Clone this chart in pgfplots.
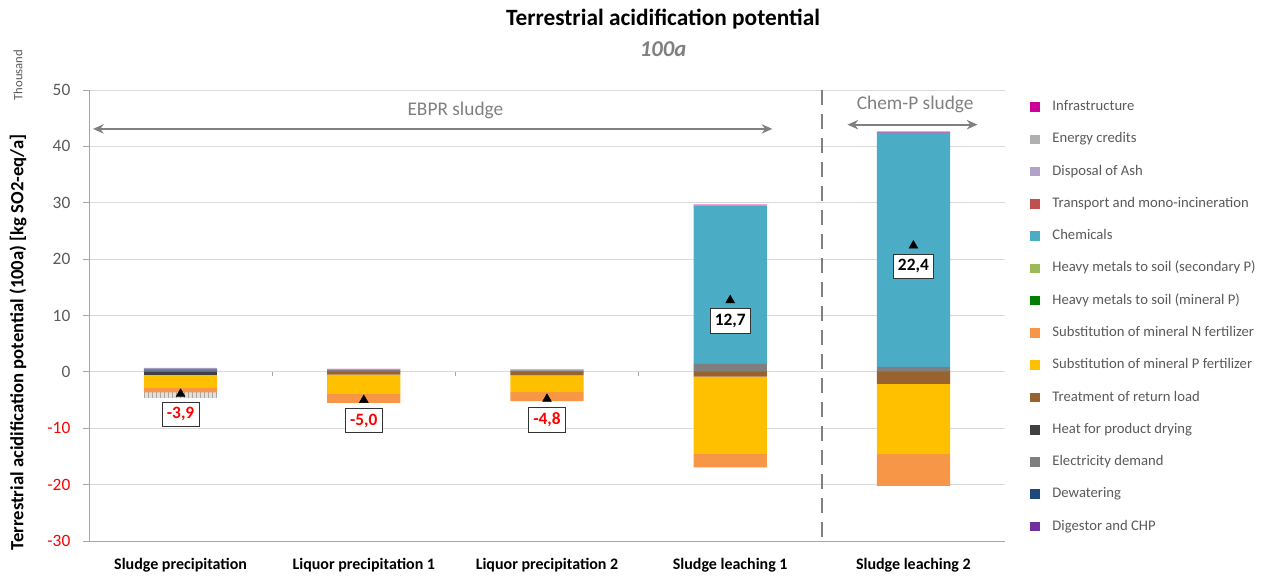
\documentclass[border=0pt]{standalone}
\usepackage{pgfplots}
\pgfplotsset{compat=1.18}
\usepackage{fontspec}
\setmainfont{Carlito}
\usetikzlibrary{arrows.meta,patterns}

\definecolor{cInfra}{HTML}{CC0099}
\definecolor{cEC}{HTML}{E0E0E0}
\definecolor{cECleg}{HTML}{B0B0B0}
\definecolor{cAsh}{HTML}{B3A2C7}
\definecolor{cTrans}{HTML}{C0504D}
\definecolor{cChem}{HTML}{4BACC6}
\definecolor{cHMs}{HTML}{9BBB59}
\definecolor{cHMm}{HTML}{008000}
\definecolor{cSubN}{HTML}{F79646}
\definecolor{cSubP}{HTML}{FFC000}
\definecolor{cRet}{HTML}{98632F}
\definecolor{cHeat}{HTML}{404040}
\definecolor{cElec}{HTML}{7F7F7F}
\definecolor{cDew}{HTML}{1F497D}
\definecolor{cDig}{HTML}{7030A0}
\definecolor{axgray}{HTML}{A6A6A6}
\definecolor{gridgray}{HTML}{D9D9D9}
\definecolor{tickgray}{HTML}{595959}
\definecolor{arrowgray}{HTML}{808080}

\begin{document}
\begin{tikzpicture}
\pgfplotsset{base/.style={scale only axis, width=687pt, height=338.25pt,
  xmin=-0.5, xmax=4.5, ymin=-30, ymax=50, at={(0pt,0pt)}, anchor=south west}}

% frame, grid and the positive contributions
\begin{axis}[base, ybar stacked, bar width=0.4,
  axis x line*=bottom, axis y line*=left,
  axis line style={draw=axgray, line width=0.6pt},
  ymajorgrids, grid style={draw=gridgray, line width=0.6pt},
  ytick={-30,-20,...,50},
  yticklabels={\textcolor{red}{-30},\textcolor{red}{-20},\textcolor{red}{-10},0,10,20,30,40,50},
  xtick={0,1,2,3,4},
  xticklabels={Sludge precipitation,Liquor precipitation 1,Liquor precipitation 2,Sludge leaching 1,Sludge leaching 2},
  tick align=outside, major tick length=4.5pt,
  xtick style={draw=none}, ytick style={draw=axgray, line width=0.6pt},
  yticklabel style={font=\fontsize{13}{15}\selectfont, text=tickgray, xshift=-6pt},
  xticklabel style={font=\bfseries\fontsize{12}{14}\selectfont, text=black, yshift=-5pt},
]
\addplot[fill=cDig, draw=none] coordinates {(0,0.1) (1,0.05) (2,0.05) (3,0.05) (4,0.05)};
\addplot[fill=cDew, draw=none] coordinates {(0,0.15) (1,0.05) (2,0.05) (3,0.05) (4,0.05)};
\addplot[fill=cElec, draw=none] coordinates {(0,0.3) (1,0.25) (2,0.15) (3,1.3) (4,0.8)};
\addplot[fill=cChem, draw=none] coordinates {(0,0) (1,0) (2,0) (3,28.1) (4,41.55)};
\addplot[fill=cAsh, draw=none] coordinates {(0,0.15) (1,0.12) (2,0.1) (3,0.05) (4,0)};
\addplot[fill=cInfra, draw=none] coordinates {(0,0) (1,0.05) (2,0.05) (3,0.1) (4,0.15)};
\end{axis}

% negative contributions
\begin{axis}[base, hide axis, ybar stacked, bar width=0.4]
\addplot[fill=cHeat, draw=none] coordinates {(0,-0.5) (1,0) (2,0) (3,0) (4,0)};
\addplot[fill=cRet, draw=none] coordinates {(0,0) (1,-0.5) (2,-0.6) (3,-0.85) (4,-2.13)};
\addplot[fill=cSubP, draw=none] coordinates {(0,-2.35) (1,-3.4) (2,-3.0) (3,-13.7) (4,-12.45)};
\addplot[fill=cSubN, draw=none] coordinates {(0,-0.8) (1,-1.62) (2,-1.6) (3,-2.4) (4,-5.62)};
\addplot[fill=cEC, draw=none, postaction={pattern=vertical lines, pattern color=gray!70}] coordinates {(0,-0.95) (1,0) (2,0) (3,0) (4,0)};
\end{axis}

% net results, legend and annotations
\begin{axis}[base, hide axis, clip=false,
  legend image code/.code={\path[#1, draw=none] (0pt,-3.6pt) rectangle (7.5pt,3.6pt);},
  legend style={at={(rel axis cs:1.0275,0.98)}, anchor=north west, draw=none, fill=none,
    inner sep=0pt, row sep=12.5pt, column sep=8pt, font=\fontsize{11}{13}\selectfont, text=tickgray,
    nodes={text height=7.5pt, text depth=2.2pt, inner sep=1pt}},
  legend cell align=left,
]
\addlegendimage{fill=cInfra}\addlegendentry{Infrastructure}
\addlegendimage{fill=cECleg}\addlegendentry{Energy credits}
\addlegendimage{fill=cAsh}\addlegendentry{Disposal of Ash}
\addlegendimage{fill=cTrans}\addlegendentry{Transport and mono-incineration}
\addlegendimage{fill=cChem}\addlegendentry{Chemicals}
\addlegendimage{fill=cHMs}\addlegendentry{Heavy metals to soil (secondary P)}
\addlegendimage{fill=cHMm}\addlegendentry{Heavy metals to soil (mineral P)}
\addlegendimage{fill=cSubN}\addlegendentry{Substitution of mineral N fertilizer}
\addlegendimage{fill=cSubP}\addlegendentry{Substitution of mineral P fertilizer}
\addlegendimage{fill=cRet}\addlegendentry{Treatment of return load}
\addlegendimage{fill=cHeat}\addlegendentry{Heat for product drying}
\addlegendimage{fill=cElec}\addlegendentry{Electricity demand}
\addlegendimage{fill=cDew}\addlegendentry{Dewatering}
\addlegendimage{fill=cDig}\addlegendentry{Digestor and CHP}

\draw[arrowgray, line width=1.5pt, dash pattern=on 11pt off 7pt] (axis cs:3.5,50) -- (axis cs:3.5,-30);
\draw[axgray, line width=0.6pt] (axis cs:0.5,0) -- ++(0pt,-3pt);
\draw[axgray, line width=0.6pt] (axis cs:1.5,0) -- ++(0pt,-3pt);
\draw[axgray, line width=0.6pt] (axis cs:2.5,0) -- ++(0pt,-3pt);

\addplot[only marks, mark=triangle*, mark size=3.8pt, black, forget plot,
  point meta=explicit symbolic, nodes near coords,
  nodes near coords style={anchor=north, yshift=-6pt, draw=black!80, fill=white, line width=0.6pt,
    font=\bfseries\fontsize{13}{15}\selectfont, text=red, inner xsep=3.5pt, inner ysep=4pt}]
  coordinates {(0,-3.9) [-3,9] (1,-5.0) [-5,0] (2,-4.8) [-4,8]};
\addplot[only marks, mark=triangle*, mark size=3.8pt, black, forget plot,
  point meta=explicit symbolic, nodes near coords,
  nodes near coords style={anchor=north, yshift=-6pt, draw=black!80, fill=white, line width=0.6pt,
    font=\bfseries\fontsize{13}{15}\selectfont, text=black, inner xsep=3.5pt, inner ysep=4pt}]
  coordinates {(3,12.7) [12,7] (4,22.4) [22,4]};

\draw[arrowgray, line width=1.5pt, {Stealth[length=8pt,width=7pt]}-{Stealth[length=8pt,width=7pt]}]
  (axis cs:-0.478,43.1) -- (axis cs:3.23,43.1);
\node[text=arrowgray, font=\fontsize{14.5}{17}\selectfont] at (axis cs:1.5,46.3) {EBPR sludge};
\draw[arrowgray, line width=1.5pt, {Stealth[length=8pt,width=7pt]}-{Stealth[length=8pt,width=7pt]}]
  (axis cs:3.64,43.85) -- (axis cs:4.35,43.85);
\node[text=arrowgray, font=\fontsize{14.5}{17}\selectfont] at (axis cs:4.01,47.4) {Chem-P sludge};
\end{axis}

\node[font=\bfseries\fontsize{17.5}{20}\selectfont] at (430.5pt,391.5pt) {Terrestrial acidification potential};
\node[font=\bfseries\itshape\fontsize{17}{20}\selectfont, text=arrowgray] at (430.5pt,369pt) {100a};
\node[rotate=90, font=\bfseries\fontsize{14}{17}\selectfont] at (-53.25pt,149pt) {Terrestrial acidification potential (100a) [kg SO2-eq/a]};
\node[rotate=90, font=\fontsize{9.5}{11}\selectfont, text=tickgray] at (-53.25pt,349.5pt) {Thousand};

\pgfresetboundingbox
\path (-66.75pt,-28.5pt) rectangle (890.25pt,405.75pt);
\end{tikzpicture}
\end{document}
